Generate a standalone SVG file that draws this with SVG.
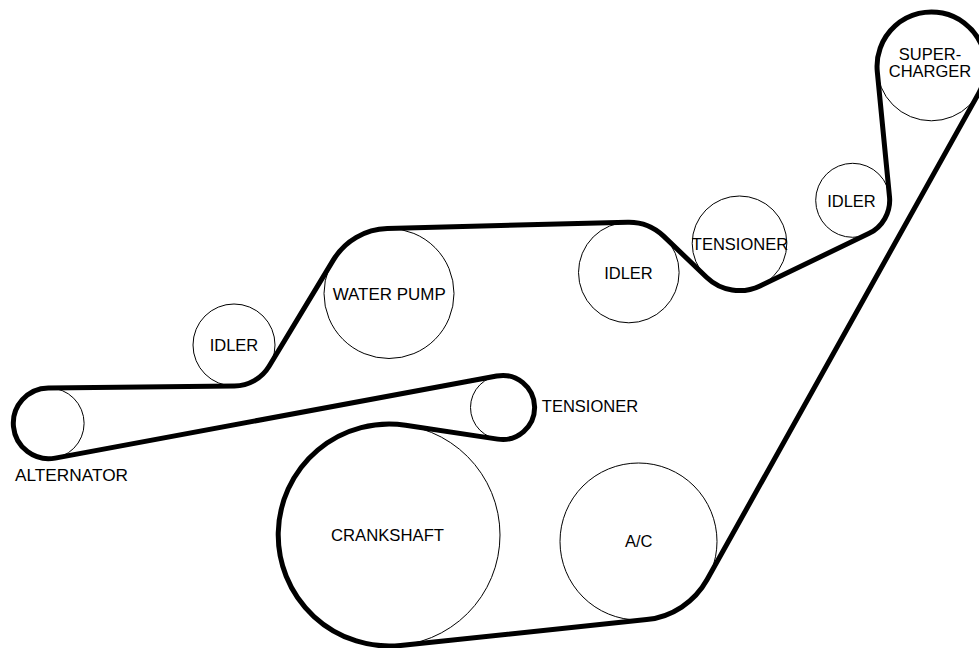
<svg xmlns="http://www.w3.org/2000/svg" width="979" height="648" viewBox="0 0 979 648">
<style>
.p{fill:none;stroke:#000;stroke-width:1}
.b{fill:none;stroke:#000;stroke-width:5;stroke-linejoin:round}
text{font-family:"Liberation Sans",Arial,sans-serif;font-size:16.5px;fill:#000;text-anchor:middle}
</style>
<rect width="979" height="648" fill="#fff"/>
<g id="supercharger"><circle class="p" cx="931.4" cy="66.4" r="54.4"/><text x="930" y="60">SUPER-</text><text x="930" y="77">CHARGER</text></g>
<g id="idler-top"><circle class="p" cx="852.7" cy="200.3" r="37"/><text x="851.5" y="207">IDLER</text></g>
<g id="tensioner-top"><circle class="p" cx="739.5" cy="243.3" r="47.3"/><text x="740" y="249.5">TENSIONER</text></g>
<g id="idler-mid"><circle class="p" cx="628.8" cy="272.5" r="50.3"/><text x="628.5" y="279">IDLER</text></g>
<g id="water-pump"><circle class="p" cx="389" cy="293.5" r="65"/><text x="389.2" y="300" textLength="113" lengthAdjust="spacingAndGlyphs">WATER PUMP</text></g>
<g id="idler-left"><circle class="p" cx="234" cy="345" r="41"/><text x="234" y="351">IDLER</text></g>
<g id="alternator"><circle class="p" cx="48.7" cy="423.3" r="35.4"/><text x="71.5" y="481" textLength="113" lengthAdjust="spacingAndGlyphs">ALTERNATOR</text></g>
<g id="tensioner-low"><circle class="p" cx="502.5" cy="407.5" r="32"/><text x="590" y="412">TENSIONER</text></g>
<g id="crankshaft"><circle class="p" cx="389" cy="535" r="111"/><text x="387.5" y="541" textLength="113" lengthAdjust="spacingAndGlyphs">CRANKSHAFT</text></g>
<g id="ac"><circle class="p" cx="638.5" cy="541.5" r="78.5"/><text x="638.7" y="547">A/C</text></g>
<g id="connectors"><path class="b" d="M877.3 71.7A54.4 54.4 0 1 1 978.9 92.9L707 579.8A78.5 78.5 0 0 1 646.7 619.6L400.6 645.4A111 111 0 1 1 405.6 425.2L497.7 439.1A32 32 0 1 0 496.65 376.04L55.2 458.1A35.4 35.4 0 1 1 48.3 387.9L234.4 386A41 41 0 0 0 269.1 366.2L333.4 259.9A65 65 0 0 1 387.3 228.5L627.5 222.2A50.3 50.3 0 0 1 663.6 236.1L706.8 277.5A47.3 47.3 0 0 0 760 285.9L868.7 233.6A37 37 0 0 0 889.5 196.7Z"/></g>
</svg>
